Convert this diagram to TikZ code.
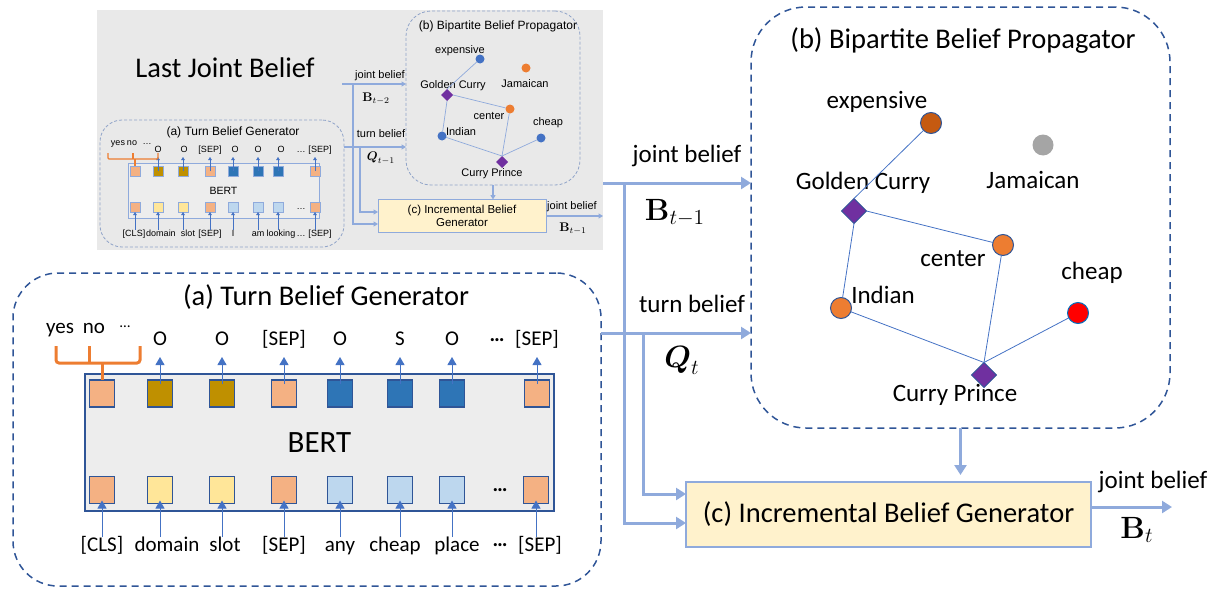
\documentclass[tikz,border=0pt]{standalone}
\usepackage{amsmath}
\usepackage{graphicx}
\usepackage[no-math]{fontspec}
\setmainfont{Carlito}
\newfontfamily\insetfont{Liberation Sans}
\usepackage{tikz}
\usetikzlibrary{arrows.meta, shapes.geometric}

\definecolor{boxblue}{HTML}{2F5597}
\definecolor{flowblue}{HTML}{8FAADC}
\definecolor{arrowblue}{HTML}{4472C4}
\definecolor{peach}{HTML}{F4B183}
\definecolor{gold}{HTML}{BF9000}
\definecolor{dblue}{HTML}{2E75B6}
\definecolor{lyellow}{HTML}{FFE699}
\definecolor{lblue}{HTML}{BDD7EE}
\definecolor{bertgray}{HTML}{EDEDED}
\definecolor{brick}{HTML}{C55A11}
\definecolor{tangerine}{HTML}{ED7D31}
\definecolor{jamgray}{HTML}{A5A5A5}
\definecolor{shoppurple}{HTML}{7030A0}
\definecolor{cheapblue}{HTML}{0070C0}
\definecolor{cream}{HTML}{FFF2CC}
\definecolor{insetgray}{HTML}{E9E9E9}
\definecolor{insetdash}{HTML}{8FA3C8}

\newcommand{\bigmath}[1]{\scalebox{1.78}{$#1$}}
\newcommand{\smallmath}[1]{\scalebox{1.25}{$#1$}}

\begin{document}
\begin{tikzpicture}
    [
        x=1pt, y=-1pt,
        every node/.style={inner sep=0pt, outer sep=0pt},
        title/.style={font=\fontsize{28.5}{30}\selectfont},
        lbl/.style={font=\fontsize{25}{27}\selectfont, text height=17pt, text depth=5pt},
        tok/.style={font=\fontsize{21}{23}\selectfont, text height=14pt, text depth=4pt},
        dots/.style={font=\fontsize{21}{23}\selectfont\bfseries},
        mathlbl/.style={font=\LARGE},
        dashbox/.style={draw=boxblue, line width=1.5pt, dash pattern=on 7pt off 5pt},
        bert/.style={draw=boxblue, fill=bertgray, line width=1.5pt, font=\fontsize{31}{33}\selectfont},
        cell/.style={draw=boxblue, line width=1.5pt, minimum width=25pt, minimum height=27pt},
        tokarrow/.style={draw=arrowblue, line width=1pt, -{Triangle[length=8pt,width=9pt]}},
        bracket/.style={draw=tangerine, line width=3pt, rounded corners=3pt},
        flow/.style={draw=flowblue, line width=3pt, -{Triangle[length=10pt,width=12pt]}},
        incbox/.style={draw=flowblue, fill=cream, line width=2pt},
        ent/.style={circle, draw=boxblue, line width=1pt, minimum size=21pt},
        shop/.style={diamond, draw=boxblue, fill=shoppurple, line width=1pt, minimum size=25pt},
        rel/.style={draw=arrowblue, line width=0.8pt},
        ititle/.style={font=\insetfont\fontsize{12}{13}\selectfont},
        ilbl/.style={font=\insetfont\fontsize{11}{12}\selectfont, text height=8pt, text depth=2pt},
        itok/.style={font=\insetfont\fontsize{9}{10}\selectfont, text height=6.5pt, text depth=2pt},
        imath/.style={font=\normalsize},
        idash/.style={draw=insetdash, line width=0.8pt, dash pattern=on 3pt off 2pt},
        ibert/.style={draw=flowblue, fill=bertgray, line width=1pt, font=\insetfont\fontsize{10.5}{11}\selectfont},
        icell/.style={draw=flowblue, line width=0.8pt, minimum size=10pt},
        itokarrow/.style={draw=arrowblue, line width=0.5pt, -{Triangle[length=3pt,width=3.5pt]}},
        iflow/.style={draw=flowblue, line width=1.2pt, -{Triangle[length=4.5pt,width=5pt]}},
        ient/.style={circle, minimum size=9pt},
        ishop/.style={diamond, fill=shoppurple, minimum size=12pt},
        irel/.style={draw=flowblue, line width=0.7pt}
    ]
    \useasboundingbox (0,0) rectangle (1219,589);

    \node[fill=insetgray, minimum width=506pt, minimum height=240pt] (inset) at (350,130) {};
    \node[title] (ljb) at (225,68) {Last Joint Belief};

    \node[idash, rounded corners=22pt, minimum width=244pt, minimum height=127pt] (ia) at (222,183.5) {};
    \node[ititle] (ia-title) at (233,132) {(a) Turn Belief Generator};
    \node[ibert, minimum width=191pt, minimum height=55pt] (ibert) at (223.5,190.5) {BERT};
    \foreach \i/\x/\c in {1/135/peach, 2/158/gold, 3/183/gold, 4/210/peach, 5/233/dblue, 6/258/dblue, 7/278/dblue, 8/315/peach}
        \node[icell, fill=\c] (itop\i) at (\x,171) {};
    \foreach \i/\x/\c in {1/135/peach, 2/158/lyellow, 3/183/lyellow, 4/210/peach, 5/233/lblue, 6/258/lblue, 7/278/lblue, 8/315/peach}
        \node[icell, fill=\c] (ibot\i) at (\x,207) {};
    \foreach \i/\x/\t in {2/158/O, 3/184/O, 4/210/{[SEP]}, 5/235/O, 6/258/O, 7/281/O, 8/320/{[SEP]}} {
        \node[itok] (iout\i) at (\x,150) {\t};
        \draw[itokarrow] (itop\i.center) -- ([yshift=9pt]itop\i.north);
    }
    \foreach \i/\x/\t in {1/134/{[CLS]}, 2/161/domain, 3/188/slot, 4/210/{[SEP]}, 5/233/I, 6/258/am, 7/281/looking, 8/320/{[SEP]}} {
        \node[itok] (iin\i) at (\x,234) {\t};
        \draw[itokarrow] (ibot\i |- iin\i.north) -- (ibot\i.south);
    }
    \node[itok] (idots-out) at (301,150) {…};
    \node[itok] (idots-in) at (301,234) {…};
    \node[itok] (idots-bert) at (301,207) {…};
    \node[itok] (iyes) at (118,143) {yes};
    \node[itok] (ino) at (132,143) {no};
    \node[itok] (imore) at (147,142) {…};
    \draw[draw=tangerine, line width=1.3pt, rounded corners=1pt] (108,153) |- (158,159) -- (158,153);
    \draw[draw=tangerine, line width=1.3pt] (133,153) -- (133,159) (135,159) -- (itop1.north);

    \node[idash, rounded corners=25pt, minimum width=174pt, minimum height=174pt] (ib) at (493,98) {};
    \node[ititle] (ib-title) at (498,26) {(b) Bipartite Belief Propagator};
    \node[ient, fill=arrowblue] (iexpensive) at (480,59) {};
    \node[ient, fill=tangerine] (ijamaican) at (526,68) {};
    \node[ishop] (igolden) at (447,95) {};
    \node[ient, fill=tangerine] (icenter) at (510,109) {};
    \node[ient, fill=arrowblue] (icheap) at (541,138) {};
    \node[ient, fill=arrowblue] (iindian) at (442,136) {};
    \node[ishop] (iprince) at (502,162) {};
    \node[ilbl] (iexpensive-l) at (460,50) {expensive};
    \node[ilbl] (ijamaican-l) at (525,84) {Jamaican};
    \node[ilbl] (igolden-l) at (453,85) {Golden Curry};
    \node[ilbl] (icenter-l) at (489,116) {center};
    \node[ilbl] (icheap-l) at (548,122) {cheap};
    \node[ilbl] (iindian-l) at (461,132) {Indian};
    \node[ilbl] (iprince-l) at (492,173) {Curry Prince};
    \draw[irel] (iexpensive) -- (igolden.north);
    \draw[irel] (igolden.east) -- (icenter);
    \draw[irel] (igolden.south) -- (iindian);
    \draw[irel] (icenter) -- (iprince.north);
    \draw[irel] (iindian) -- (iprince.north);
    \draw[irel] (icheap) -- (iprince.north);

    \node[draw=flowblue, fill=cream, line width=1pt, minimum width=168pt, minimum height=33pt, align=center, font=\insetfont\fontsize{11.5}{12.5}\selectfont] (ic) at (462,216) {(c) Incremental Belief\\Generator};

    \coordinate (ijb) at (342,84);
    \coordinate (ijbsplit) at (353,84);
    \coordinate (itbsplit) at (360,147);
    \coordinate (ibt) at (603,216);
    \draw[iflow] (ijb) -- (ib.west |- ijb);
    \draw[iflow] (ijbsplit) |- ([yshift=-8pt]ic.west);
    \draw[iflow] (ia.east |- itbsplit) -- (ib.west |- itbsplit);
    \draw[iflow] (itbsplit) |- ([yshift=4pt]ic.west);
    \draw[iflow] (ib.south) -- (ic.north -| ib.south);
    \draw[iflow] (ic.east) -- (ibt);
    \node[ilbl] (ijb-l) at (380,75) {joint belief};
    \node[imath] (ibprev) at (376,99) {\smallmath{\mathbf{B}_{t-2}}};
    \node[ilbl] (itb-l) at (381,134) {turn belief};
    \node[imath] (iqt) at (381,158) {\smallmath{\boldsymbol{Q}_{t-1}}};
    \node[ilbl] (ibt-l) at (572,206) {joint belief};
    \node[imath] (ibt-m) at (573,229) {\smallmath{\mathbf{B}_{t-1}}};

    \node[dashbox, rounded corners=45pt, minimum width=588pt, minimum height=313pt] (tbg) at (307,429.5) {};
    \node[title] (tbg-title) at (326,297) {(a) Turn Belief Generator};
    \node[bert, minimum width=469pt, minimum height=137pt] (bert) at (319.5,442.5) {BERT};
    \foreach \i/\x/\c in {1/102/peach, 2/160/gold, 3/222/gold, 4/284/peach, 5/340/dblue, 6/400/dblue, 7/452/dblue, 8/537/peach}
        \node[cell, fill=\c] (top\i) at (\x,393.5) {};
    \foreach \i/\x/\c in {1/102/peach, 2/160/lyellow, 3/222/lyellow, 4/284/peach, 5/340/lblue, 6/400/lblue, 7/452/lblue, 8/536/peach}
        \node[cell, fill=\c] (bot\i) at (\x,490) {};
    \foreach \i/\x/\t in {2/160/O, 3/222/O, 4/284/{[SEP]}, 5/340/O, 6/400/S, 7/452/O, 8/537/{[SEP]}} {
        \node[tok] (out\i) at (\x,340) {\t};
        \draw[tokarrow] ([yshift=-4pt]top\i.north) -- ([yshift=23pt]top\i.north);
    }
    \foreach \i/\x/\t in {1/102/{[CLS]}, 2/167/domain, 3/225/slot, 4/284/{[SEP]}, 5/340/any, 6/395/cheap, 7/457/place, 8/540/{[SEP]}} {
        \node[tok] (in\i) at (\x,546) {\t};
        \draw[tokarrow, shorten >=-3pt] (bot\i |- in\i.north) -- (bot\i.south);
    }
    \node[dots] (dots-out) at (497,340) {…};
    \node[dots] (dots-bert) at (500,490) {…};
    \node[dots] (dots-in) at (500,545) {…};
    \node[tok] (yes) at (60,328) {yes};
    \node[tok] (no) at (94,328) {no};
    \node[font=\fontsize{15}{16}\selectfont] (more) at (125,327) {…};
    \draw[bracket] (56,346) |- (140,363) -- (140,346);
    \draw[bracket] (89,346) -- (89,363);
    \draw[bracket] (102,363) -- (top1.north);

    \node[dashbox, rounded corners=55pt, minimum width=419pt, minimum height=421pt] (bbp) at (960.5,217.5) {};
    \node[title] (bbp-title) at (963,41) {(b) Bipartite Belief Propagator};
    \node[ent, fill=brick] (expensive) at (931,123) {};
    \node[ent, fill=jamgray, draw=none] (jamaican) at (1043,145) {};
    \node[shop] (golden) at (854,211) {};
    \node[ent, fill=tangerine] (center) at (1003,245) {};
    \node[ent, fill=red, draw=cheapblue] (cheap) at (1078,313) {};
    \node[ent, fill=tangerine] (indian) at (841,308) {};
    \node[shop] (prince) at (984,375) {};
    \node[lbl] (expensive-l) at (877,102) {expensive};
    \node[lbl] (jamaican-l) at (1033,182) {Jamaican};
    \node[lbl] (golden-l) at (863,183) {Golden Curry};
    \node[lbl] (center-l) at (953,260) {center};
    \node[lbl] (cheap-l) at (1092,273) {cheap};
    \node[lbl] (indian-l) at (883,297) {Indian};
    \node[lbl] (prince-l) at (955,395) {Curry Prince};
    \draw[rel] (expensive) -- (golden.north);
    \draw[rel] (golden.east) -- (center);
    \draw[rel] (golden.south) -- (indian);
    \draw[rel] (center) -- (prince.north);
    \draw[rel] (indian) -- (prince.north);
    \draw[rel] (cheap) -- (prince.north);

    \node[incbox, title, minimum width=405pt, minimum height=65pt] (ibg) at (888.5,514.5) {(c) Incremental Belief Generator};

    \coordinate (jbsplit) at (624,183);
    \coordinate (tbsplit) at (643,333);
    \coordinate (bt) at (1172,507);
    \draw[flow] (inset.east |- jbsplit) -- (bbp.west |- jbsplit);
    \draw[flow] (jbsplit) |- ([yshift=-8.5pt]ibg.west);
    \draw[flow] (tbg.east |- tbsplit) -- (bbp.west |- tbsplit);
    \draw[flow] (tbsplit) |- ([yshift=20.5pt]ibg.west);
    \draw[flow, shorten >=7pt] (bbp.south) -- (ibg.north -| bbp.south);
    \draw[flow] (ibg.east |- bt) -- (bt);
    \node[lbl] (jb-l) at (687,156) {joint belief};
    \node[mathlbl] (bprev) at (675,213) {\bigmath{\mathbf{B}_{t-1}}};
    \node[lbl] (tb-l) at (692,306) {turn belief};
    \node[mathlbl] (qt) at (682,360) {\bigmath{\boldsymbol{Q}_t}};
    \node[lbl] (bt-l) at (1153,482) {joint belief};
    \node[mathlbl] (bt-m) at (1137,530) {\bigmath{\mathbf{B}_t}};
\end{tikzpicture}
\end{document}
